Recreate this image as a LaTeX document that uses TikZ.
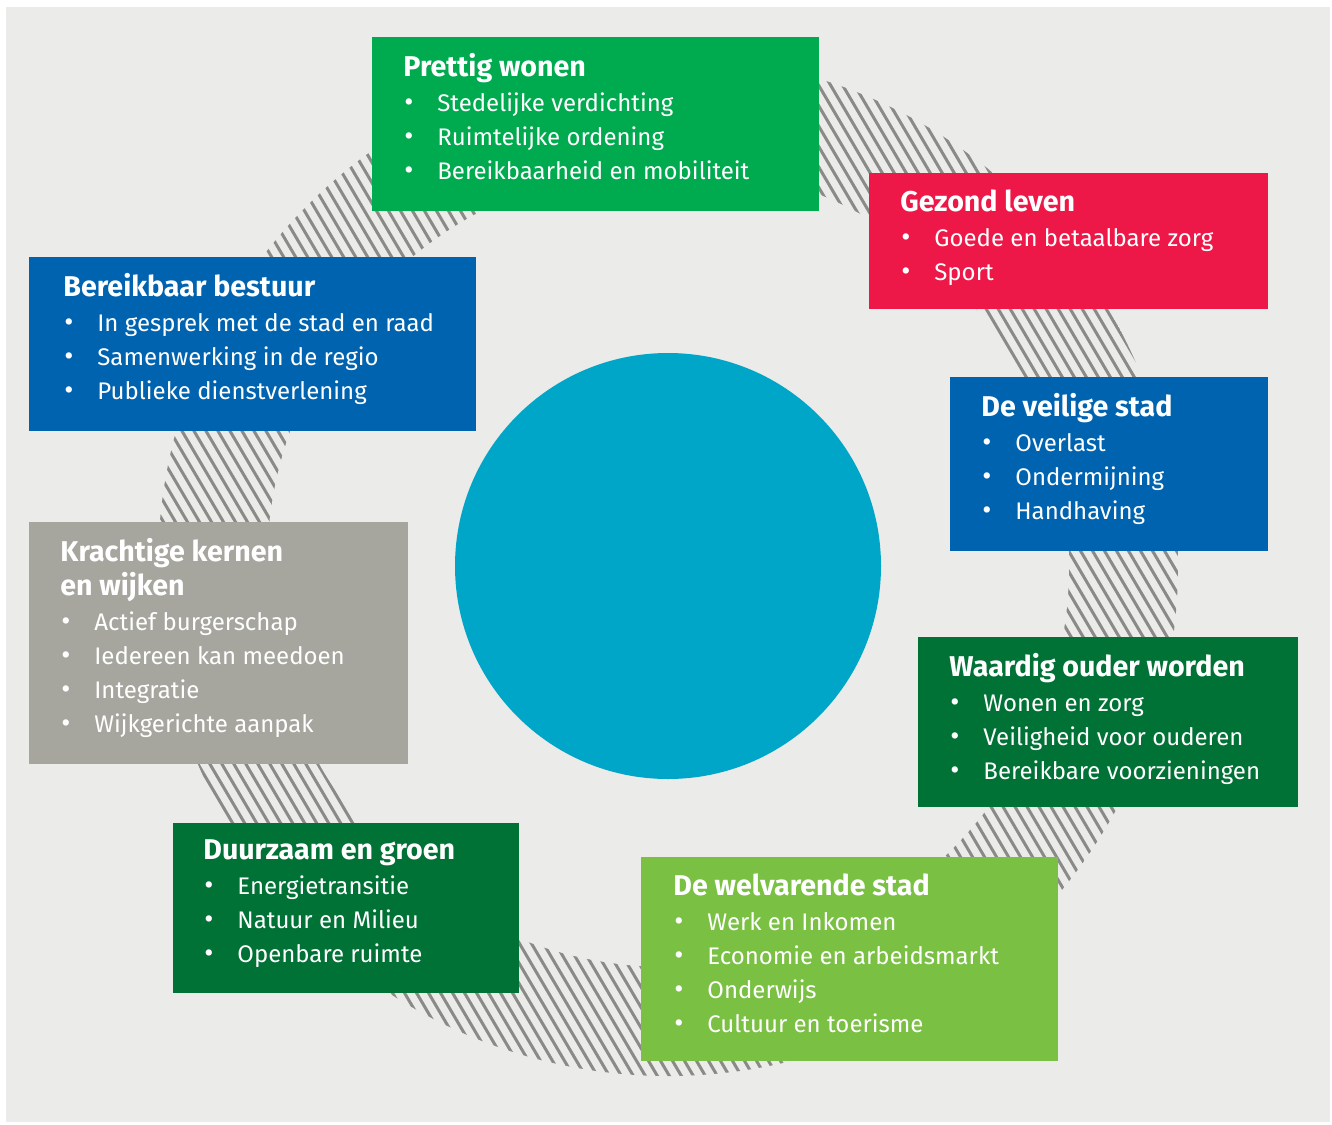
\documentclass[tikz,border=0pt]{standalone}
\usepackage{fontspec}
\setmainfont{Fira Sans}
\usetikzlibrary{positioning}

\definecolor{bggray}{RGB}{235,235,233}
\definecolor{hatchgray}{RGB}{138,138,134}
\definecolor{hubcyan}{RGB}{0,166,200}
\definecolor{wgreen}{RGB}{0,170,79}
\definecolor{wred}{RGB}{238,24,72}
\definecolor{wblue}{RGB}{0,99,176}
\definecolor{wdark}{RGB}{0,114,54}
\definecolor{wlight}{RGB}{122,192,67}
\definecolor{wgray}{RGB}{166,166,159}

\newcommand{\ttl}[1]{{\fontsize{14.3}{17}\selectfont\bfseries #1}}
\newcommand{\itm}[1]{\makebox[17pt][l]{\hspace{0.5pt}{\fontsize{14}{17}\selectfont\textbullet}}#1}

\begin{document}
\begin{tikzpicture}[x=0.5pt,y=0.5pt,yscale=-1,
    box/.style={anchor=north west, inner sep=0pt, outer sep=0pt},
    txt/.style={anchor=north west, inner sep=0pt, text=white, align=left,
        font=\fontsize{12}{17}\selectfont},
    hatch/.style={hatchgray, line width=1.5pt}]
    \useasboundingbox (0,0) rectangle (1332,1124);
    
    % background
    \fill[bggray] (6,7) rectangle (1330,1122);
    
    % hatched ring
    \begin{scope}
        \clip (668,566) circle[radius=510];
        \foreach \c in {-720,-708,...,1200}
            \draw[hatch] (\c,40) -- ++(660,1122);
    \end{scope}
    \fill[bggray] (668,566) circle[radius=401];
    
    % centre
    \node[circle, fill=hubcyan, minimum size=213pt, inner sep=0pt] (hub) at (668,566) {};
    
    % boxes
    \node[box, fill=wgreen, minimum width=223.5pt, minimum height=87pt] (wonen) at (372,37) {};
    \node[box, fill=wred, minimum width=199.5pt, minimum height=68pt] (gezond) at (869,173) {};
    \node[box, fill=wblue, minimum width=159pt, minimum height=87pt] (veilig) at (950,377) {};
    \node[box, fill=wdark, minimum width=190pt, minimum height=85pt] (ouder) at (918,637) {};
    \node[box, fill=wlight, minimum width=208.5pt, minimum height=102pt] (welvaart) at (641,857) {};
    \node[box, fill=wdark, minimum width=173pt, minimum height=85pt] (duurzaam) at (173,823) {};
    \node[box, fill=wgray, minimum width=189.5pt, minimum height=121pt] (kernen) at (29,522) {};
    \node[box, fill=wblue, minimum width=223.5pt, minimum height=87pt] (bestuur) at (29,257) {};
    
    % texts
    \node[txt, below right=8pt and 15.5pt of wonen.north west] (wonentxt)
        {\ttl{Prettig wonen}\\[0.5pt] \itm{Stedelijke verdichting}\\ \itm{Ruimtelijke ordening}\\ \itm{Bereikbaarheid en mobiliteit}};
    \node[txt, below right=8pt and 15.5pt of gezond.north west] (gezondtxt)
        {\ttl{Gezond leven}\\[0.5pt] \itm{Goede en betaalbare zorg}\\ \itm{Sport}};
    \node[txt, below right=8pt and 15.5pt of veilig.north west] (veiligtxt)
        {\ttl{De veilige stad}\\[0.5pt] \itm{Overlast}\\ \itm{Ondermijning}\\ \itm{Handhaving}};
    \node[txt, below right=8pt and 15.5pt of ouder.north west] (oudertxt)
        {\ttl{Waardig ouder worden}\\[0.5pt] \itm{Wonen en zorg}\\ \itm{Veiligheid voor ouderen}\\ \itm{Bereikbare voorzieningen}};
    \node[txt, below right=8pt and 16pt of welvaart.north west] (welvaarttxt)
        {\ttl{De welvarende stad}\\[0.5pt] \itm{Werk en Inkomen}\\ \itm{Economie en arbeidsmarkt}\\ \itm{Onderwijs}\\ \itm{Cultuur en toerisme}};
    \node[txt, below right=8pt and 15pt of duurzaam.north west] (duurzaamtxt)
        {\ttl{Duurzaam en groen}\\[0.5pt] \itm{Energietransitie}\\ \itm{Natuur en Milieu}\\ \itm{Openbare ruimte}};
    \node[txt, below right=8pt and 15.5pt of kernen.north west] (kernentxt)
        {\ttl{Krachtige kernen}\\ \ttl{en wijken}\\[0.5pt] \itm{Actief burgerschap}\\ \itm{Iedereen kan meedoen}\\ \itm{Integratie}\\ \itm{Wijkgerichte aanpak}};
    \node[txt, below right=8pt and 17pt of bestuur.north west] (bestuurtxt)
        {\ttl{Bereikbaar bestuur}\\[0.5pt] \itm{In gesprek met de stad en raad}\\ \itm{Samenwerking in de regio}\\ \itm{Publieke dienstverlening}};
\end{tikzpicture}
\end{document}
